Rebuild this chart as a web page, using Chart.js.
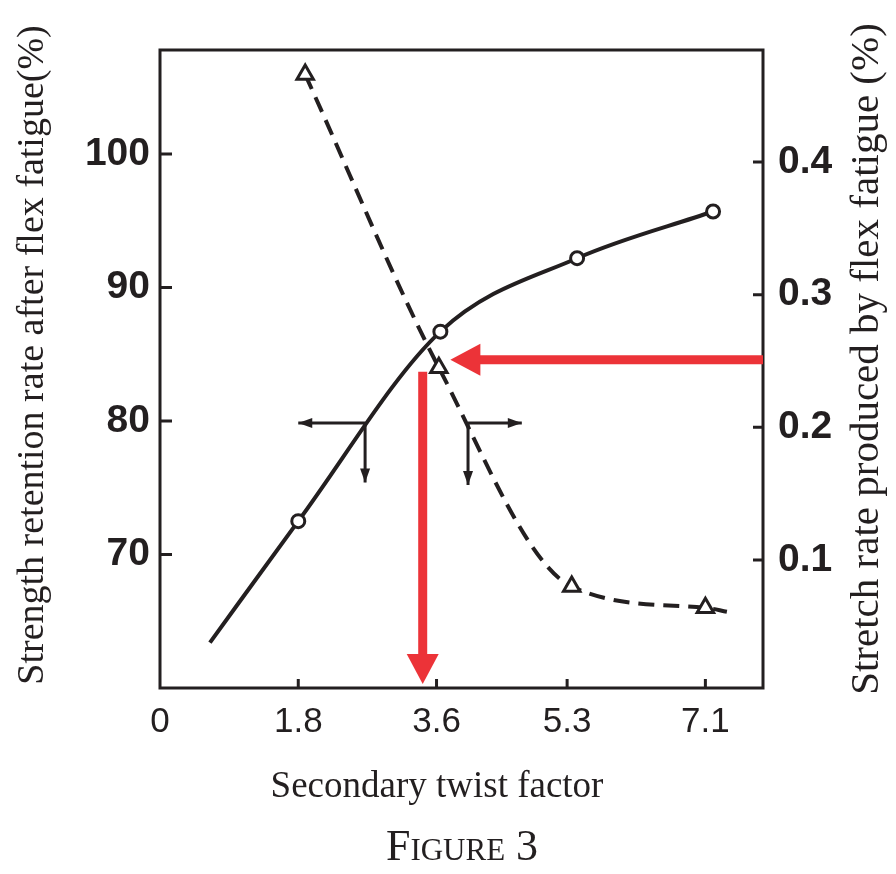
<!DOCTYPE html>
<html>
<head>
<meta charset="utf-8">
<script src="https://cdn.jsdelivr.net/npm/chart.js@4.4.0/dist/chart.umd.min.js"></script>
<style>
  html, body { margin: 0; padding: 0; background: #fff; }
</style>
</head>
<body>
<canvas id="fig3" width="896" height="874"></canvas>
<script>
// axis ticks
const twistTicks = [0, 1.8, 3.6, 5.3, 7.1];
const strengthTicks = [70, 80, 90, 100];
const stretchTicks = [0.1, 0.2, 0.3, 0.4];

// solid curve - strength retention rate after flex fatigue (%), left axis
const strengthX = [0.65, 1.80, 3.65, 5.43, 7.20];
const strengthY = [63.4, 72.5, 86.7, 92.2, 95.7];
const strengthMarked = [false, true, true, true, true];

// dashed curve - stretch rate produced by flex fatigue (%), right axis
const stretchX = [1.89, 3.63, 5.36, 7.10, 7.38];
const stretchY = [0.466, 0.245, 0.080, 0.064, 0.061];
const stretchMarked = [true, true, true, true, false];

// small reading arrows (corner on curve -> sideways and down), axis units
const guideCorners = [[2.67, 79.85], [4.01, 79.85]];
const guideSideX = [1.80, 4.71];
const guideDownY = [75.4, 75.2];

// red arrows: level on the stretch axis, and the drop to the twist axis
const redLevel = 0.251;
const redLevelTipX = 3.78;
const redDropX = 3.42;
const redDropTopY = 83.7;

const ink = '#231f20';
const red = '#ec3338';
const serif = "'Liberation Serif', 'Times New Roman', serif";
const numFont = "'Liberation Sans', Arial, sans-serif";

function head(ctx, x, y, ang, len, half) {
    const c = Math.cos(ang), s = Math.sin(ang);
    ctx.beginPath();
    ctx.moveTo(x, y);
    ctx.lineTo(x - len * c - half * s, y - len * s + half * c);
    ctx.lineTo(x - len * c + half * s, y - len * s - half * c);
    ctx.closePath();
    ctx.fill();
}

function sideText(ctx, text, x, y, size) {
    ctx.save();
    ctx.translate(x, y);
    ctx.rotate(-Math.PI / 2);
    ctx.font = size + 'px ' + serif;
    ctx.fillText(text, 0, 0);
    ctx.restore();
}

const figurePlugin = {
    id: 'figure3',
    afterDatasetsDraw(chart) {
        const {ctx, chartArea: a, scales} = chart;
        const x = scales.x, y = scales.y, y1 = scales.y1;
        ctx.save();

        // frame
        ctx.strokeStyle = ink;
        ctx.lineWidth = 3;
        ctx.strokeRect(a.left, a.top, a.right - a.left, a.bottom - a.top);

        // inner tick marks
        ctx.beginPath();
        strengthTicks.forEach(v => {
            const py = y.getPixelForValue(v);
            ctx.moveTo(a.left, py); ctx.lineTo(a.left + 12, py);
        });
        stretchTicks.forEach(v => {
            const py = y1.getPixelForValue(v);
            ctx.moveTo(a.right, py); ctx.lineTo(a.right - 10, py);
        });
        twistTicks.slice(1).forEach(v => {
            const px = x.getPixelForValue(v);
            ctx.moveTo(px, a.bottom); ctx.lineTo(px, a.bottom - 9);
        });
        ctx.stroke();

        // small black reading arrows
        ctx.fillStyle = ink;
        ctx.lineWidth = 3;
        guideCorners.forEach((c, i) => {
            const cx = x.getPixelForValue(c[0]), cy = y.getPixelForValue(c[1]);
            const sx = x.getPixelForValue(guideSideX[i]);
            const dy = y.getPixelForValue(guideDownY[i]);
            ctx.beginPath();
            ctx.moveTo(sx, cy); ctx.lineTo(cx, cy);
            ctx.moveTo(cx, cy); ctx.lineTo(cx, dy);
            ctx.stroke();
            head(ctx, sx, cy, sx < cx ? Math.PI : 0, 14, 5);
            head(ctx, cx, dy, Math.PI / 2, 14, 5);
        });

        // red arrows
        ctx.fillStyle = red;
        ctx.strokeStyle = red;
        ctx.lineWidth = 9;
        const ly = y1.getPixelForValue(redLevel);
        const lt = x.getPixelForValue(redLevelTipX);
        ctx.beginPath();
        ctx.moveTo(a.right, ly); ctx.lineTo(lt + 26, ly);
        ctx.stroke();
        head(ctx, lt, ly, Math.PI, 30, 16);

        const dx = x.getPixelForValue(redDropX);
        const dt = y.getPixelForValue(redDropTopY);
        ctx.beginPath();
        ctx.moveTo(dx, dt); ctx.lineTo(dx, a.bottom - 30);
        ctx.stroke();
        head(ctx, dx, a.bottom - 4, Math.PI / 2, 30, 16);

        ctx.restore();
    },
    afterDraw(chart) {
        const {ctx} = chart;
        ctx.save();
        ctx.fillStyle = ink;
        ctx.textAlign = 'center';
        ctx.textBaseline = 'middle';

        // axis titles (both side titles read bottom to top)
        sideText(ctx, 'Strength retention rate after flex fatigue(%)', 33, 355, 38);
        sideText(ctx, 'Stretch rate produced by flex fatigue (%)', 867, 359, 41);
        ctx.font = '37px ' + serif;
        ctx.fillText('Secondary twist factor', 437, 787);

        // caption
        ctx.font = '44px ' + serif;
        ctx.fontVariantCaps = 'small-caps';
        ctx.fillText('Figure 3', 462, 848);
        ctx.restore();
    }
};

const canvas = document.getElementById('fig3');
new Chart(canvas.getContext('2d'), {
    type: 'scatter',
    data: {
        datasets: [
            {
                label: 'Strength retention rate',
                data: strengthX.map((v, i) => ({x: v, y: strengthY[i]})),
                yAxisID: 'y',
                showLine: true,
                cubicInterpolationMode: 'monotone',
                borderColor: ink,
                borderWidth: 4,
                pointStyle: 'circle',
                pointRadius: strengthMarked.map(m => m ? 6.5 : 0),
                pointBorderWidth: 3,
                pointBorderColor: ink,
                pointBackgroundColor: '#fff'
            },
            {
                label: 'Stretch rate',
                data: stretchX.map((v, i) => ({x: v, y: stretchY[i]})),
                yAxisID: 'y1',
                showLine: true,
                cubicInterpolationMode: 'monotone',
                borderColor: ink,
                borderWidth: 4,
                borderDash: [16, 9],
                pointStyle: 'triangle',
                pointRadius: stretchMarked.map(m => m ? 9.5 : 0),
                pointBorderWidth: 3,
                pointBorderColor: ink,
                pointBackgroundColor: '#fff'
            }
        ]
    },
    options: {
        responsive: false,
        animation: false,
        layout: {padding: {top: 50, left: 0, right: 0, bottom: 0}},
        plugins: {
            legend: {display: false},
            tooltip: {enabled: false}
        },
        scales: {
            x: {
                type: 'linear',
                position: 'bottom',
                min: 0,
                max: 7.85,
                afterBuildTicks: s => { s.ticks = twistTicks.map(v => ({value: v})); },
                afterFit: s => { s.height = 186; },
                grid: {display: false, drawTicks: false},
                border: {display: false},
                ticks: {
                    color: ink,
                    padding: 13,
                    maxRotation: 0,
                    font: {family: numFont, size: 35},
                    callback: v => String(v)
                }
            },
            y: {
                position: 'left',
                min: 60,
                max: 107.8,
                afterBuildTicks: s => { s.ticks = strengthTicks.map(v => ({value: v})); },
                afterFit: s => { s.width = 160; },
                grid: {display: false, drawTicks: false},
                border: {display: false},
                ticks: {
                    color: ink,
                    padding: 10,
                    font: {family: numFont, size: 39, weight: 'bold'}
                }
            },
            y1: {
                position: 'right',
                min: 0.0035,
                max: 0.4845,
                afterBuildTicks: s => { s.ticks = stretchTicks.map(v => ({value: v})); },
                afterFit: s => { s.width = 133; },
                grid: {display: false, drawTicks: false},
                border: {display: false},
                ticks: {
                    color: ink,
                    padding: 15,
                    font: {family: numFont, size: 39, weight: 'bold'},
                    callback: v => v.toFixed(1)
                }
            }
        }
    },
    plugins: [figurePlugin]
});
</script>
</body>
</html>
